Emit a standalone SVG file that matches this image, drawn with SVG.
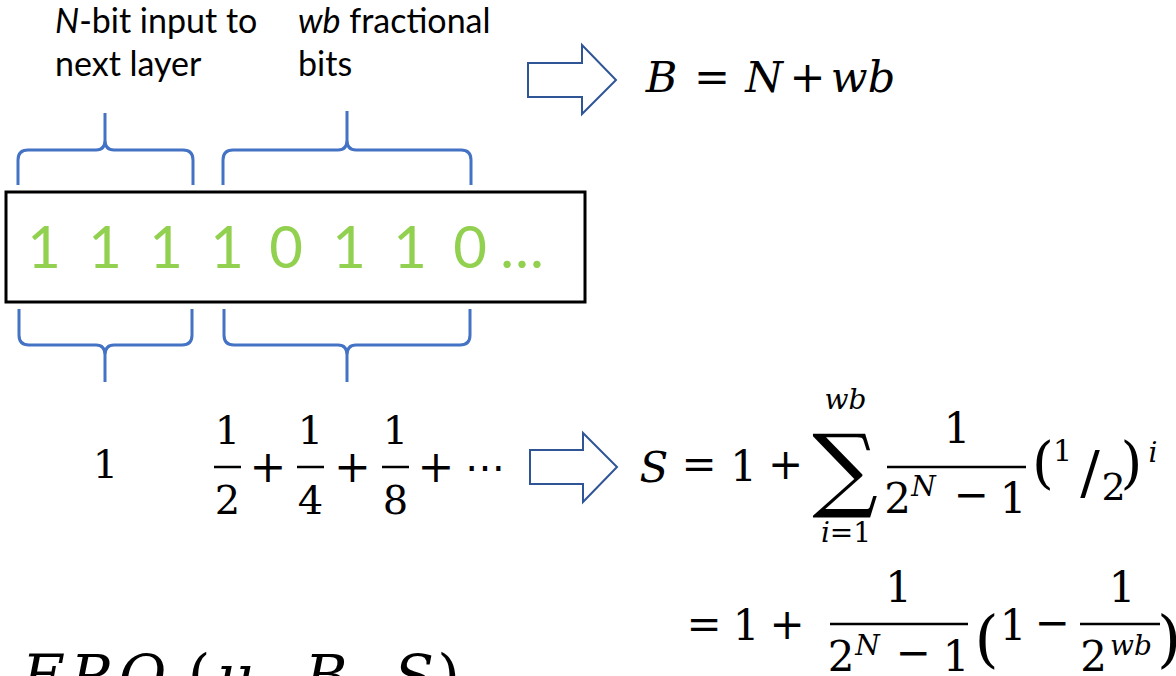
<svg xmlns="http://www.w3.org/2000/svg" width="1176" height="676" viewBox="0 0 1176 676">
<style>
.lbl{font-family:Lato,"Liberation Sans",sans-serif;font-size:34px;fill:#000}
.bits{font-family:Lato,"Liberation Sans",sans-serif;font-size:58px;fill:#92D050;text-anchor:middle}
.brace{fill:none;stroke:#4472C4;stroke-width:3}
.arrow{fill:#fff;stroke:#2F5597;stroke-width:2}
.m{font-family:"DejaVu Serif","Liberation Serif",serif;fill:#000}
.m text{text-anchor:middle}
.i{font-style:italic}
.bar{stroke:#000;stroke-width:2.5}
</style>
<rect width="1176" height="676" fill="#fff"/>

<g id="label-nbit">
<text class="lbl" x="55" y="33"><tspan font-style="italic">N</tspan>-bit input to</text>
<text class="lbl" x="55" y="76">next layer</text>
</g>
<g id="label-wb">
<text class="lbl" x="298" y="33"><tspan font-style="italic">wb</tspan> fractional</text>
<text class="lbl" x="298" y="76">bits</text>
</g>

<g id="braces">
<path class="brace" d="M18,185 L18,160 Q18,150 28,150 L96,150 Q105,150 105,140 L105,113 M105,140 Q105,150 114,150 L183,150 Q193,150 193,160 L193,185"/>
<path class="brace" d="M223,185 L223,160 Q223,150 233,150 L338,150 Q347,150 347,140 L347,111 M347,140 Q347,150 356,150 L461,150 Q471,150 471,160 L471,185"/>
<path class="brace" d="M19,309 L19,335 Q19,345 29,345 L96,345 Q105,345 105,355 L105,382 M105,355 Q105,345 114,345 L182,345 Q192,345 192,335 L192,309"/>
<path class="brace" d="M224,309 L224,335 Q224,345 234,345 L338,345 Q347,345 347,355 L347,382 M347,355 Q347,345 356,345 L460,345 Q470,345 470,335 L470,309"/>
</g>

<g id="bitbox">
<rect x="6" y="192" width="579" height="110" fill="#fff" stroke="#000" stroke-width="3"/>
<text class="bits" x="44 105 166 227 286 349 410 470 522" y="268">11110110…</text>
</g>

<g id="connectors">
<polygon class="arrow" points="528,63 582,63 582,45 616,80 582,114 582,97 528,97"/>
<polygon class="arrow" points="530,450 583,450 583,433 617,467 583,502 583,484 530,484"/>
</g>

<g id="eq-B" class="m" font-size="43">
<text class="i" x="661.5" y="92">B</text>
<text x="712" y="92">=</text>
<text class="i" x="764" y="92">N</text>
<text x="807.5" y="92">+</text>
<text class="i" x="863" y="92">wb</text>
</g>

<g id="series" class="m" font-size="40">
<text x="105.5" y="478">1</text>
<text x="227.5" y="444">1</text><line class="bar" x1="214" y1="467" x2="241" y2="467"/><text x="227.5" y="514">2</text>
<text x="310.5" y="444">1</text><line class="bar" x1="297" y1="467" x2="324" y2="467"/><text x="310.5" y="514">4</text>
<text x="395.5" y="444">1</text><line class="bar" x1="382" y1="467" x2="409" y2="467"/><text x="395.5" y="514">8</text>
<text x="268" y="482" font-size="44">+</text>
<text x="352.5" y="482" font-size="44">+</text>
<text x="436" y="482" font-size="44">+</text>
<text x="485" y="481">⋯</text>
</g>

<g id="eq-S" class="m" font-size="42">
<text class="i" x="654" y="482">S</text>
<text x="699" y="479">=</text>
<text x="743.5" y="481">1</text>
<text x="785.5" y="479">+</text>
<text x="845" y="500" font-size="92">∑</text>
<text class="i" x="845.5" y="409" font-size="28">wb</text>
<text x="846" y="542" font-size="28"><tspan font-style="italic">i</tspan>=1</text>
<text x="957" y="443">1</text>
<line class="bar" x1="887" y1="467" x2="1026" y2="467"/>
<text x="897.5" y="513">2</text>
<text class="i" x="923.5" y="496" font-size="28">N</text>
<text x="971" y="509">−</text>
<text x="1013" y="513">1</text>
<text x="1043" y="482" font-size="56">(</text>
<text x="1062.5" y="461" font-size="30">1</text>
<text x="1090" y="493" font-size="58">/</text>
<text x="1113.5" y="500" font-size="38">2</text>
<text x="1131.5" y="482" font-size="56">)</text>
<text class="i" x="1153" y="462" font-size="28">i</text>
</g>

<g id="eq-S2" class="m" font-size="42">
<text x="704" y="639">=</text>
<text x="746" y="640">1</text>
<text x="787" y="639">+</text>
<text x="898.5" y="602">1</text>
<line class="bar" x1="830" y1="624" x2="968" y2="624"/>
<text x="841" y="671">2</text>
<text class="i" x="867.5" y="655" font-size="28">N</text>
<text x="913" y="667">−</text>
<text x="956" y="671">1</text>
<text x="986.5" y="660" font-size="62">(</text>
<text x="1013" y="640">1</text>
<text x="1052" y="637">−</text>
<text x="1122" y="602">1</text>
<line class="bar" x1="1080" y1="624" x2="1160" y2="624"/>
<text x="1093.5" y="671">2</text>
<text class="i" x="1131" y="655" font-size="28">wb</text>
<text x="1169" y="660" font-size="62">)</text>
</g>

<g id="fpo" class="m" font-size="58">
<text class="i" x="42" y="696">F</text>
<text class="i" x="90" y="696">P</text>
<text class="i" x="142.5" y="696">O</text>
<text x="199" y="696">(</text>
<text class="i" x="234.5" y="696">μ</text>
<text x="266" y="696">,</text>
<text class="i" x="326" y="696">B</text>
<text x="362" y="696">,</text>
<text class="i" x="414" y="696">S</text>
<text x="448.5" y="696">)</text>
</g>
</svg>
